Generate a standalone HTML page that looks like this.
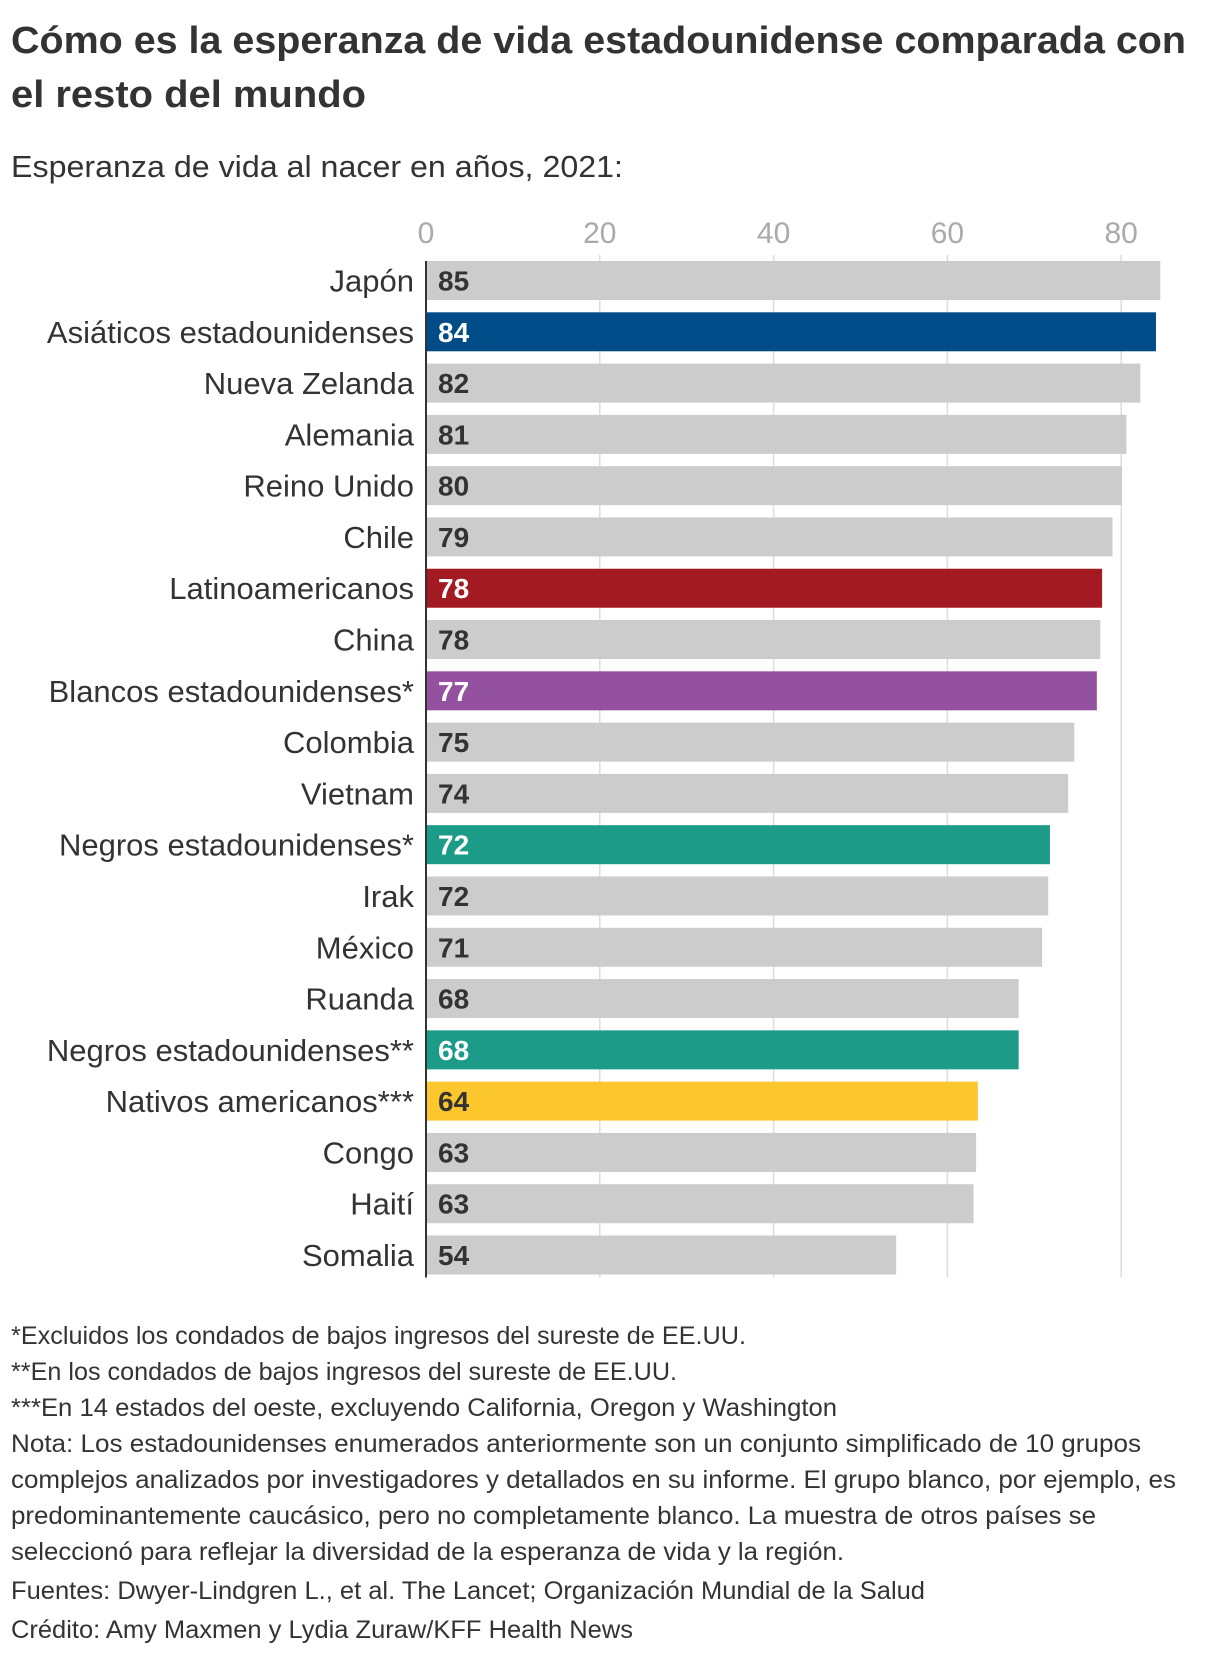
<!DOCTYPE html>
<html><head><meta charset="utf-8"><style>
html,body{margin:0;padding:0;background:#fff}
svg{display:block;font-family:"Liberation Sans",sans-serif}
</style></head><body>
<svg id="chart" width="1220" height="1660" viewBox="0 0 1220 1660" xmlns="http://www.w3.org/2000/svg">
<text x="11" y="53" font-size="38" font-weight="bold" fill="#333" textLength="1175" lengthAdjust="spacingAndGlyphs">Cómo es la esperanza de vida estadounidense comparada con</text>
<text x="11" y="107" font-size="38" font-weight="bold" fill="#333" textLength="355" lengthAdjust="spacingAndGlyphs">el resto del mundo</text>
<text x="11" y="177" font-size="31" fill="#333" textLength="612" lengthAdjust="spacingAndGlyphs">Esperanza de vida al nacer en años, 2021:</text>
<g id="grid"></g><g id="bars"></g><g id="axis"></g>
<g font-size="25" fill="#333" transform="translate(0,10)">
<text x="11" y="1334" textLength="735" lengthAdjust="spacingAndGlyphs">*Excluidos los condados de bajos ingresos del sureste de EE.UU.</text>
<text x="11" y="1370" textLength="666" lengthAdjust="spacingAndGlyphs">**En los condados de bajos ingresos del sureste de EE.UU.</text>
<text x="11" y="1406" textLength="826" lengthAdjust="spacingAndGlyphs">***En 14 estados del oeste, excluyendo California, Oregon y Washington</text>
<text x="11" y="1442" textLength="1130" lengthAdjust="spacingAndGlyphs">Nota: Los estadounidenses enumerados anteriormente son un conjunto simplificado de 10 grupos</text>
<text x="11" y="1478" textLength="1165" lengthAdjust="spacingAndGlyphs">complejos analizados por investigadores y detallados en su informe. El grupo blanco, por ejemplo, es</text>
<text x="11" y="1514" textLength="1085" lengthAdjust="spacingAndGlyphs">predominantemente caucásico, pero no completamente blanco. La muestra de otros países se</text>
<text x="11" y="1550" textLength="833" lengthAdjust="spacingAndGlyphs">seleccionó para reflejar la diversidad de la esperanza de vida y la región.</text>
<text x="11" y="1589" textLength="914" lengthAdjust="spacingAndGlyphs">Fuentes: Dwyer-Lindgren L., et al. The Lancet; Organización Mundial de la Salud</text>
<text x="11" y="1628" textLength="622" lengthAdjust="spacingAndGlyphs">Crédito: Amy Maxmen y Lydia Zuraw/KFF Health News</text>
</g>
</svg>
<script>
const categories = ["Japón","Asiáticos estadounidenses","Nueva Zelanda","Alemania","Reino Unido","Chile","Latinoamericanos","China","Blancos estadounidenses*","Colombia","Vietnam","Negros estadounidenses*","Irak","México","Ruanda","Negros estadounidenses**","Nativos americanos***","Congo","Haití","Somalia"];
const values = [84.5,84.0,82.2,80.6,80.1,79.0,77.8,77.6,77.2,74.6,73.9,71.8,71.6,70.9,68.2,68.2,63.5,63.3,63.0,54.1];
const printedValues = ["85","84","82","81","80","79","78","78","77","75","74","72","72","71","68","68","64","63","63","54"];
const highlightColors = [null,"#004c89",null,null,null,null,"#a31a22",null,"#94519f",null,null,"#1c9c88",null,null,null,"#1c9c88","#fcc72c",null,null,null];
const tickValues = [0,20,40,60,80];

const NS="http://www.w3.org/2000/svg";
const x0=426, pxPer=8.69, rowTop=261, pitch=51.29, barH=39;
const xScale=v=>x0+v*pxPer;
const yScale=i=>rowTop+i*pitch;
const bottom=yScale(categories.length-1)+barH+3;
function mk(tag,attrs,parent){const e=document.createElementNS(NS,tag);for(const k in attrs)e.setAttribute(k,attrs[k]);parent.appendChild(e);return e;}
const grid=document.getElementById('grid'),bars=document.getElementById('bars'),axis=document.getElementById('axis');
tickValues.forEach(t=>{
  const tx=mk('text',{x:xScale(t),y:243,'font-size':30,fill:'#aaa','text-anchor':'middle'},axis);
  tx.textContent=t;
  
  
  if(t>0){const l=mk('line',{x1:xScale(t),x2:xScale(t),y1:255,y2:bottom,stroke:'#ddd','stroke-width':1.5},grid);
  
  }
});
categories.forEach((c,i)=>{
  const y=yScale(i);
  const col=highlightColors[i]||"#cccccc";
  const r=mk('rect',{x:x0+1,y:y,width:xScale(values[i])-x0-1,height:barH,fill:col},bars);
  
  
  const lab=mk('text',{x:414,y:y+barH/2+11,'font-size':31,fill:'#333','text-anchor':'end'},bars);
  lab.textContent=c;
  
  
  const v=mk('text',{x:x0+12,y:y+barH/2+10,'font-size':28,'font-weight':'bold',fill:highlightColors[i]&&highlightColors[i]!=="#fcc72c"?'#fff':'#333'},bars);
  v.textContent=printedValues[i];
  
  
});
const ax=mk('line',{x1:x0,x2:x0,y1:yScale(0),y2:bottom,stroke:'#333','stroke-width':2},axis);


</script>
</body></html>
